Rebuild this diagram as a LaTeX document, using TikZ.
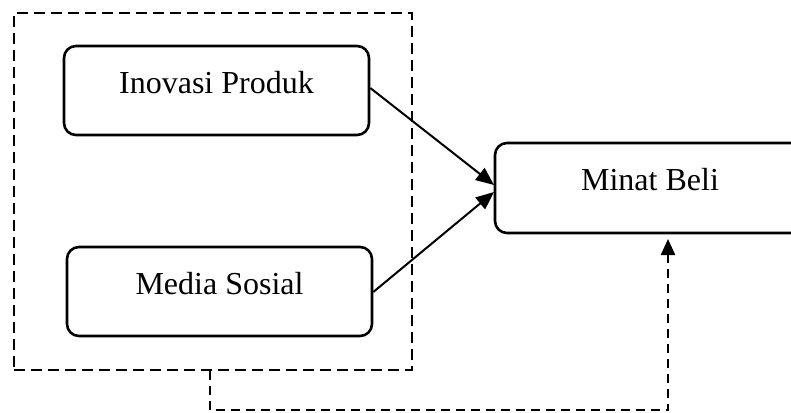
\documentclass[tikz,border=0pt]{standalone}
\usepackage{fontspec}
\setmainfont{Liberation Serif}
\usetikzlibrary{arrows.meta}
\begin{document}
\begin{tikzpicture}[x=1pt,y=-1pt,
  vbox/.style={draw=black,line width=2.6pt,rounded corners=12pt,minimum width=#1,inner sep=0pt,minimum height=89pt},
  lbl/.style={font=\fontsize{32}{37}\selectfont,inner sep=0pt},
  arr/.style={line width=2pt,-{Triangle[length=18pt,width=15pt]}},
  grp/.style={draw=black,line width=2.6pt,dash pattern=on 11pt off 6pt},
  dcon/.style={line width=2.3pt,dash pattern=on 9pt off 6pt,-{Triangle[length=16pt,width=14pt]}}]
\useasboundingbox (0,0) rectangle (791,412);
\clip (0,0) rectangle (791,412);
\node[vbox=305pt] (ip) at (216.5,90.5) {};
\node[lbl] (ipt) at ([yshift=8pt]ip.center) {Inovasi Produk};
\node[vbox=305pt] (ms) at (219.5,291.5) {};
\node[lbl] (mst) at ([yshift=8pt]ms.center) {Media Sosial};
\node[vbox=310pt,minimum height=90pt] (mb) at (650,188) {};
\node[lbl] (mbt) at ([yshift=8pt]mb.center) {Minat Beli};
\node[grp,minimum width=398pt,minimum height=357pt,inner sep=0pt] (g) at (213,191.5) {};
\coordinate (g1) at (210,370.5);
\coordinate (c1) at (210,410);
\coordinate (c2) at (668,410);
\coordinate (mbin) at (668,239);
\draw[arr] (ip.east |- 0,88) -- (494,185);
\draw[arr] (ms.east |- 0,292) -- (494,192);
\draw[dcon] (g1) -- (c1) -- (c2) -- (mbin);
\end{tikzpicture}
\end{document}
